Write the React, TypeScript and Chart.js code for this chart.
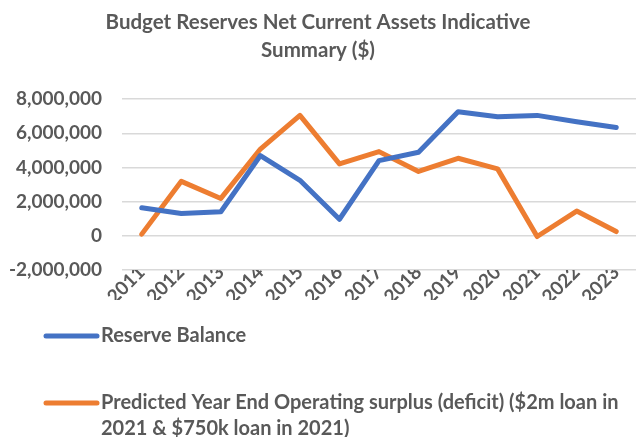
import React, { useEffect, useRef } from "react";
import { Chart, registerables } from "chart.js";

Chart.register(...registerables);

const titleLines = ["Budget Reserves Net Current Assets Indicative", "Summary ($)"];
const years = ["2011", "2012", "2013", "2014", "2015", "2016", "2017", "2018", "2019", "2020", "2021", "2022", "2023"];
const reserveBalance = [1640000, 1310000, 1410000, 4700000, 3250000, 970000, 4400000, 4890000, 7260000, 6970000, 7050000, 6680000, 6340000];
const operatingSurplus = [100000, 3190000, 2190000, 5080000, 7050000, 4210000, 4930000, 3770000, 4540000, 3920000, -40000, 1450000, 250000];
const seriesNames = ["Reserve Balance", "Predicted Year End Operating surplus (deficit) ($2m loan in 2021 & $750k loan in 2021)"];
const legendLines = [["Reserve Balance"], ["Predicted Year End Operating surplus (deficit) ($2m loan in", "2021 & $750k loan in 2021)"]];

const BLUE = "#4472C4";
const ORANGE = "#ED7D31";
const TEXT = "#595959";
const FONT = "Lato";

const legendPlugin = {
  id: "customLegend",
  afterDraw(chart: any) {
    const ctx = chart.ctx;
    const items = [
      { color: BLUE, lines: legendLines[0], y: 336 },
      { color: ORANGE, lines: legendLines[1], y: 403 },
    ];
    ctx.save();
    items.forEach((it) => {
      ctx.strokeStyle = it.color;
      ctx.lineWidth = 5;
      ctx.lineCap = "round";
      ctx.beginPath();
      ctx.moveTo(46, it.y);
      ctx.lineTo(97, it.y);
      ctx.stroke();
      ctx.fillStyle = TEXT;
      ctx.font = `bold 20px ${FONT}`;
      ctx.textBaseline = "middle";
      ctx.textAlign = "left";
      it.lines.forEach((l, i) => ctx.fillText(l, 101, it.y + i * 26));
    });
    ctx.restore();
  },
};

export default function App() {
  const ref = useRef<HTMLCanvasElement>(null);
  useEffect(() => {
    if (!ref.current) return;
    const chart = new Chart(ref.current, {
      type: "line",
      data: {
        labels: years,
        datasets: [
          { label: seriesNames[0], data: reserveBalance, borderColor: BLUE, backgroundColor: BLUE, borderWidth: 5, pointRadius: 0, tension: 0, borderCapStyle: "round", borderJoinStyle: "round" },
          { label: seriesNames[1], data: operatingSurplus, borderColor: ORANGE, backgroundColor: ORANGE, borderWidth: 5, pointRadius: 0, tension: 0, borderCapStyle: "round", borderJoinStyle: "round" },
        ],
      },
      options: {
        animation: false,
        responsive: true,
        maintainAspectRatio: false,
        layout: { padding: { left: 0, right: 0, top: 0, bottom: 137 } },
        plugins: {
          legend: { display: false },
          tooltip: { enabled: false },
          title: {
            display: true,
            text: titleLines,
            color: TEXT,
            font: { family: FONT, size: 20.5, weight: "bold", lineHeight: 1.37 },
            padding: { top: 8, bottom: 35 },
          },
        },
        scales: {
          x: {
            offset: true,
            grid: { display: false, drawTicks: false },
            border: { display: false },
            ticks: { color: TEXT, font: { family: FONT, size: 19, weight: "bold" }, maxRotation: 45, minRotation: 45, padding: -9, autoSkip: false },
            afterFit: (s: any) => { s.height = 30; },
          },
          y: {
            min: -2000000,
            max: 8000000,
            grid: { color: "#D9D9D9", lineWidth: 1.5, drawTicks: false },
            border: { display: false },
            ticks: {
              stepSize: 2000000,
              color: TEXT,
              font: { family: FONT, size: 19, weight: "bold" },
              padding: 20,
              callback: (v: any) => Number(v).toLocaleString("en-US"),
            },
            afterFit: (s: any) => { s.width = 122; },
          },
        },
      },
      plugins: [legendPlugin],
    } as any);
    return () => chart.destroy();
  }, []);
  return (
    <div style={{ position: "absolute", left: 0, top: 0, width: 636, height: 437, background: "#fff" }}>
      <canvas ref={ref} />
    </div>
  );
}
